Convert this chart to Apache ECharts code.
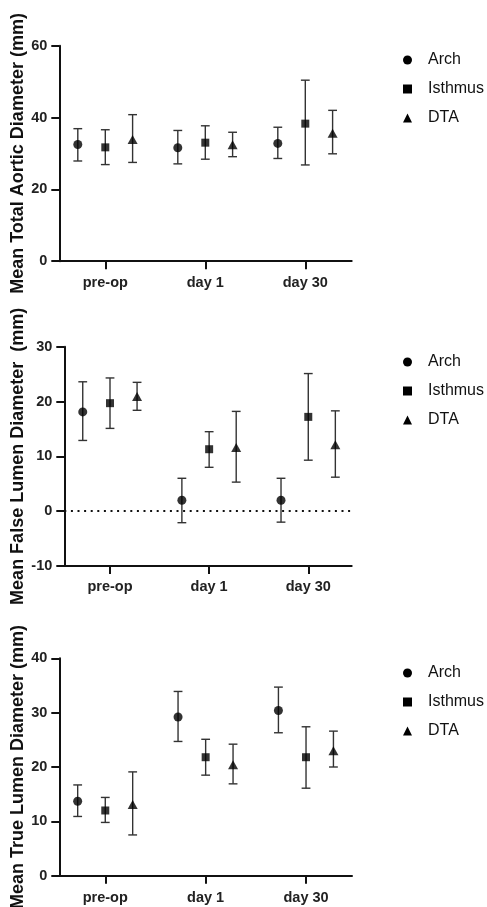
<!DOCTYPE html>
<html>
<head>
<meta charset="utf-8">
<script src="https://cdn.jsdelivr.net/npm/echarts@6/dist/echarts.min.js"></script>
<style>
html,body{margin:0;padding:0;background:#fff;}
#chart{width:487px;height:907px;}
</style>
</head>
<body>
<div id="chart"></div>
<script>
const categories = ['pre-op', 'day 1', 'day 30'];
const seriesNames = ['Arch', 'Isthmus', 'DTA'];
const axisTitles = ['Mean Total Aortic Diameter (mm)', 'Mean False Lumen Diameter  (mm)', 'Mean True Lumen Diameter (mm)'];

// Panel 1: total aortic diameter
const totalArchMean = [32.5, 31.6, 32.8];
const totalArchLow = [27.9, 27.1, 28.6];
const totalArchHigh = [36.9, 36.4, 37.3];
const totalIsthmusMean = [31.7, 33.0, 38.3];
const totalIsthmusLow = [26.9, 28.4, 26.8];
const totalIsthmusHigh = [36.6, 37.7, 50.4];
const totalDtaMean = [33.9, 32.4, 35.6];
const totalDtaLow = [27.5, 29.1, 29.9];
const totalDtaHigh = [40.8, 35.9, 42.0];

// Panel 2: false lumen diameter
const falseArchMean = [18.1, 2.0, 2.0];
const falseArchLow = [12.9, -2.1, -2.0];
const falseArchHigh = [23.6, 6.0, 6.0];
const falseIsthmusMean = [19.7, 11.3, 17.2];
const falseIsthmusLow = [15.1, 8.0, 9.3];
const falseIsthmusHigh = [24.3, 14.5, 25.1];
const falseDtaMean = [20.9, 11.6, 12.1];
const falseDtaLow = [18.4, 5.3, 6.2];
const falseDtaHigh = [23.5, 18.2, 18.3];

// Panel 3: true lumen diameter
const trueArchMean = [13.7, 29.2, 30.4];
const trueArchLow = [10.9, 24.7, 26.3];
const trueArchHigh = [16.7, 33.9, 34.7];
const trueIsthmusMean = [12.0, 21.8, 21.8];
const trueIsthmusLow = [9.8, 18.5, 16.1];
const trueIsthmusHigh = [14.4, 25.1, 27.4];
const trueDtaMean = [13.1, 20.4, 23.0];
const trueDtaLow = [7.5, 16.9, 20.0];
const trueDtaHigh = [19.1, 24.2, 26.6];

// Y axis ranges / ticks
const yMin = [0, -10, 0];
const yMax = [60, 30, 40];
const yStep = [20, 10, 10];

const panels = [
  [[totalArchMean, totalArchLow, totalArchHigh], [totalIsthmusMean, totalIsthmusLow, totalIsthmusHigh], [totalDtaMean, totalDtaLow, totalDtaHigh]],
  [[falseArchMean, falseArchLow, falseArchHigh], [falseIsthmusMean, falseIsthmusLow, falseIsthmusHigh], [falseDtaMean, falseDtaLow, falseDtaHigh]],
  [[trueArchMean, trueArchLow, trueArchHigh], [trueIsthmusMean, trueIsthmusLow, trueIsthmusHigh], [trueDtaMean, trueDtaLow, trueDtaHigh]]
];

const FONT = '"Liberation Sans", Arial, Helvetica, sans-serif';
const symbols = ['circle', 'rect', 'triangle'];
const symbolSizes = [9, 8, [10, 9]];
const groupOffsets = [-0.275, 0, 0.273];

const grids = [
  {left: 59.3, top: 45.7, width: 292.4, height: 215.5, containLabel: false, outerBoundsMode: 'none'},
  {left: 64.3, top: 346.7, width: 287.4, height: 219.3, containLabel: false, outerBoundsMode: 'none'},
  {left: 59.3, top: 658.3, width: 292.7, height: 217.4, containLabel: false, outerBoundsMode: 'none'}
];
const xRanges = [[-0.46, 2.464], [-0.461, 2.438], [-0.458, 2.458]];
const nameGaps = [32, 37, 32];
const xLabelMargins = [14, 13, 15];
const legendTops = [50, 352, 663];

const chart = echarts.init(document.getElementById('chart'), null, {renderer: 'canvas'});

const xAxes = grids.map((g, i) => ({
  type: 'value', gridIndex: i, min: xRanges[i][0], max: xRanges[i][1],
  axisLine: {show: true, onZero: false, lineStyle: {color: '#111', width: 2}},
  axisTick: {show: true, length: 8, customValues: [0, 1, 2], lineStyle: {color: '#111', width: 2}},
  axisLabel: {customValues: [0, 1, 2], formatter: v => categories[Math.round(v)], margin: xLabelMargins[i],
    color: '#222', fontFamily: FONT, fontWeight: 'bold', fontSize: 14.5},
  splitLine: {show: false}
}));

const yAxes = grids.map((g, i) => ({
  type: 'value', gridIndex: i, min: yMin[i], max: yMax[i], interval: yStep[i],
  name: axisTitles[i], nameLocation: 'middle', nameRotate: 90, nameGap: nameGaps[i],
  nameMoveOverlap: false,
  nameTextStyle: {color: '#111', fontFamily: FONT, fontWeight: 'bold', fontSize: 18},
  axisLine: {show: true, onZero: false, lineStyle: {color: '#111', width: 2}},
  axisTick: {show: true, length: 8, lineStyle: {color: '#111', width: 2}},
  axisLabel: {margin: 12, color: '#222', fontFamily: FONT, fontWeight: 'bold', fontSize: 14.5},
  splitLine: {show: false}
}));

const series = [];
panels.forEach((panel, p) => {
  panel.forEach((arrs, s) => {
    const [mean, low, high] = arrs;
    const off = groupOffsets[s];
    series.push({
      name: seriesNames[s], type: 'custom', xAxisIndex: p, yAxisIndex: p, z: 2,
      data: categories.map((c, k) => [k + off, low[k], high[k]]),
      renderItem: function (params, api) {
        const top = api.coord([api.value(0), api.value(2)]);
        const bot = api.coord([api.value(0), api.value(1)]);
        const hw = 4.4;
        const st = {stroke: '#333', lineWidth: 1.4};
        return {type: 'group', children: [
          {type: 'line', shape: {x1: top[0], y1: top[1], x2: bot[0], y2: bot[1]}, style: st},
          {type: 'line', shape: {x1: top[0] - hw, y1: top[1], x2: top[0] + hw, y2: top[1]}, style: st},
          {type: 'line', shape: {x1: bot[0] - hw, y1: bot[1], x2: bot[0] + hw, y2: bot[1]}, style: st}
        ]};
      }
    });
    const sc = {
      name: seriesNames[s], type: 'scatter', xAxisIndex: p, yAxisIndex: p, z: 3,
      symbol: symbols[s], symbolSize: symbolSizes[s],
      itemStyle: {color: '#000'},
      data: categories.map((c, k) => [k + off, mean[k]])
    };
    if (p === 1 && s === 0) {
      sc.markLine = {
        silent: true, symbol: ['none', 'none'], label: {show: false},
        lineStyle: {color: '#111', width: 2, type: [2, 4.6]},
        data: [{yAxis: 0}]
      };
    }
    series.push(sc);
  });
});

const legends = legendTops.map(t => ({
  orient: 'vertical', left: 403, top: t, padding: 0,
  itemWidth: 9, itemHeight: 9, itemGap: 9,
  data: seriesNames.map((n, s) => ({name: n, icon: symbols[s]})),
  itemStyle: {color: '#000'},
  textStyle: {color: '#111', fontFamily: FONT, fontSize: 16, lineHeight: 20, padding: [0, 0, 0, 11]}
}));

chart.setOption({
  backgroundColor: '#fff',
  animation: false,
  grid: grids,
  xAxis: xAxes,
  yAxis: yAxes,
  legend: legends,
  series: series
});
</script>
</body>
</html>
